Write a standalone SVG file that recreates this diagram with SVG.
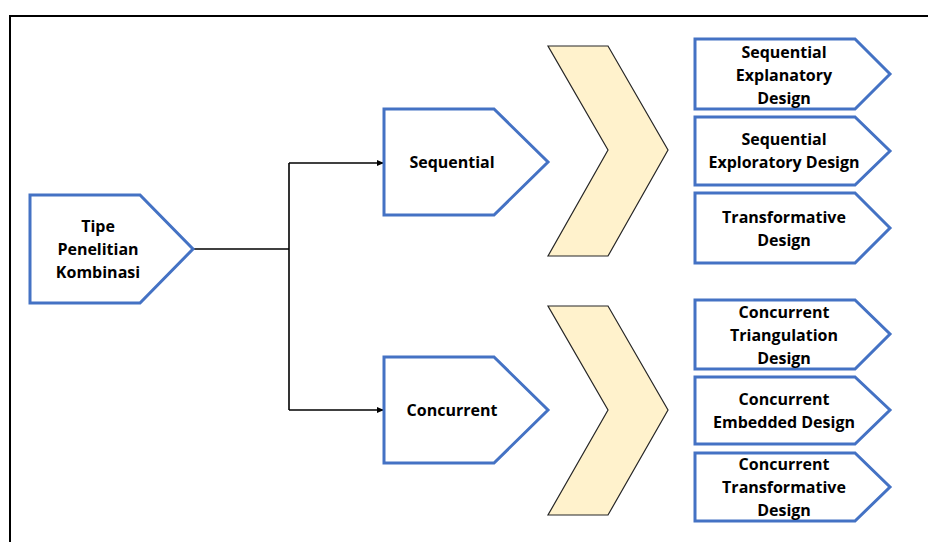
<svg xmlns="http://www.w3.org/2000/svg" width="928" height="542" viewBox="0 0 928 542">
<defs>
<style>
.node{fill:#ffffff;stroke:#4472C4;stroke-width:3;stroke-linejoin:miter}
.chev{fill:#FFF2CC;stroke:#262626;stroke-width:1.2}
.t{font-family:"Open Sans","Liberation Sans",Arial,sans-serif;font-weight:bold;font-size:16px;fill:#000;text-anchor:middle}
.conn{fill:none;stroke:#000;stroke-width:1.6}
</style>
<marker id="arr" markerWidth="8" markerHeight="8" refX="7" refY="4" orient="auto" markerUnits="userSpaceOnUse">
<path d="M0,1 L7,4 L0,7 Z" fill="#000"/>
</marker>
</defs>
<rect x="0" y="0" width="928" height="542" fill="#ffffff"/>
<path d="M10,542 V16 H928" fill="none" stroke="#000" stroke-width="2"/>
<g id="connectors">
<path class="conn" d="M193,249 H289"/>
<path class="conn" d="M289,163 V410"/>
<path class="conn" d="M289,163 H384" marker-end="url(#arr)"/>
<path class="conn" d="M289,410 H384" marker-end="url(#arr)"/>
</g>
<g id="tipe">
<polygon class="node" points="30,195 140,195 193,249 140,303 30,303"/>
<text class="t" x="98" y="232">Tipe</text>
<text class="t" x="98" y="255">Penelitian</text>
<text class="t" x="98" y="278">Kombinasi</text>
</g>
<g id="sequential">
<polygon class="node" points="384,109 494,109 548,162 494,215 384,215"/>
<text class="t" x="452" y="168">Sequential</text>
</g>
<g id="concurrent">
<polygon class="node" points="384,357 494,357 548,410 494,463 384,463"/>
<text class="t" x="452" y="416">Concurrent</text>
</g>
<g id="chevron-seq">
<polygon class="chev" points="548,46 608,46 668,150 608,256 548,256 608,150"/>
</g>
<g id="chevron-con">
<polygon class="chev" points="548,306 608,306 668,410 608,515 548,515 608,410"/>
</g>
<g id="seq-explanatory">
<polygon class="node" points="695,39 855,39 890,74 855,109 695,109"/>
<text class="t" x="784" y="58">Sequential</text>
<text class="t" x="784" y="81">Explanatory</text>
<text class="t" x="784" y="104">Design</text>
</g>
<g id="seq-exploratory">
<polygon class="node" points="695,117 855,117 890,151 855,185 695,185"/>
<text class="t" x="784" y="145">Sequential</text>
<text class="t" x="784" y="168">Exploratory Design</text>
</g>
<g id="transformative">
<polygon class="node" points="695,193 855,193 890,228 855,263 695,263"/>
<text class="t" x="784" y="223">Transformative</text>
<text class="t" x="784" y="246">Design</text>
</g>
<g id="con-triangulation">
<polygon class="node" points="695,300 855,300 890,334 855,369 695,369"/>
<text class="t" x="784" y="318">Concurrent</text>
<text class="t" x="784" y="341">Triangulation</text>
<text class="t" x="784" y="364">Design</text>
</g>
<g id="con-embedded">
<polygon class="node" points="695,377 855,377 890,410 855,444 695,444"/>
<text class="t" x="784" y="405">Concurrent</text>
<text class="t" x="784" y="428">Embedded Design</text>
</g>
<g id="con-transformative">
<polygon class="node" points="695,453 855,453 890,487 855,521 695,521"/>
<text class="t" x="784" y="470">Concurrent</text>
<text class="t" x="784" y="493">Transformative</text>
<text class="t" x="784" y="516">Design</text>
</g>
</svg>
